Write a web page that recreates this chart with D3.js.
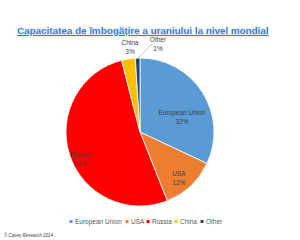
<!DOCTYPE html>
<html><head><meta charset="utf-8">
<script src="https://cdn.jsdelivr.net/npm/d3@7"></script>
<style>body{margin:0;background:#fff}svg{display:block}</style>
</head><body>
<svg id="c" width="300" height="240"></svg>
<script>
const categories = ["European Union", "USA", "Russia", "China", "Other"];
const values = [32, 12, 52, 3, 1];
const colors = ["#5B9BD5", "#ED7D31", "#FF0000", "#FFC000", "#264478"];
const titleText = "Capacitatea de îmbogățire a uraniului la nivel mondial";
const footer = "© Casey Research 2014";

const svg = d3.select("#c");
const data = categories.map((c, i) => ({cat: c, v: values[i], col: colors[i]}));

// title with glow
const defs = svg.append("defs");
const f = defs.append("filter").attr("id", "glow").attr("x", "-10%").attr("y", "-50%").attr("width", "120%").attr("height", "200%");
f.append("feGaussianBlur").attr("in", "SourceAlpha").attr("stdDeviation", 1.2).attr("result", "b");
f.append("feFlood").attr("flood-color", "#9dc3f0").attr("flood-opacity", 0.9);
f.append("feComposite").attr("in2", "b").attr("operator", "in").attr("result", "g");
const m = f.append("feMerge");
m.append("feMergeNode").attr("in", "g");
m.append("feMergeNode").attr("in", "SourceGraphic");

const title = svg.append("text")
  .attr("x", 143).attr("y", 34).attr("text-anchor", "middle")
  .attr("font-family", "Liberation Sans, Arial, sans-serif")
  .attr("font-weight", "bold").attr("font-size", 11.5)
  .attr("fill", "#3a7fd5").attr("text-decoration", "underline")
  .attr("filter", "url(#glow)")
  .text(titleText);
const tw = title.node().getComputedTextLength();
title.attr("font-size", 11.5 * 252 / tw);

const cx = 140, cy = 132, r = 74;
const pie = d3.pie().value(d => d.v).sort(null);
const arc = d3.arc().innerRadius(0).outerRadius(r);
const arcs = pie(data);
const g = svg.append("g").attr("transform", `translate(${cx},${cy})`);
g.selectAll("path").data(arcs).join("path")
  .attr("d", arc).attr("fill", d => d.data.col)
  .attr("stroke", "#fff").attr("stroke-width", 0.8);

// data labels
const labelPos = {
  "European Union": [42, -17],
  "USA": [39, 44],
  "Russia": [-60, 25],
  "China": [-10, -87],
  "Other": [18, -90]
};
const lab = svg.append("g").attr("font-family", "Liberation Sans, Arial, sans-serif")
  .attr("font-size", 6.5).attr("fill", "#404040").attr("text-anchor", "middle");
arcs.forEach(a => {
  const p = labelPos[a.data.cat];
  const t = lab.append("text").attr("x", cx + p[0]).attr("y", cy + p[1]);
  t.append("tspan").attr("x", cx + p[0]).attr("dy", 0).text(a.data.cat);
  t.append("tspan").attr("x", cx + p[0]).attr("dy", 8.5).text(Math.round(a.data.v) + "%");
});
// leader line for Other
const oth = arcs[4];
const mid = (oth.startAngle + oth.endAngle) / 2;
svg.append("line")
  .attr("x1", cx + Math.sin(mid) * r).attr("y1", cy - Math.cos(mid) * r)
  .attr("x2", cx + 12).attr("y2", cy - 88)
  .attr("stroke", "#a6a6a6").attr("stroke-width", 0.6);

// legend
const legX = [71, 127, 148, 176, 202];
const leg = svg.append("g").attr("font-family", "Liberation Sans, Arial, sans-serif")
  .attr("font-size", 6.5).attr("fill", "#595959");
data.forEach((d, i) => {
  leg.append("rect").attr("x", legX[i] - 1.5).attr("y", 220).attr("width", 3).attr("height", 3).attr("fill", d.col);
  leg.append("text").attr("x", legX[i] + 4).attr("y", 224).text(d.cat);
});

svg.append("text").attr("x", 4).attr("y", 237)
  .attr("font-family", "Liberation Sans, Arial, sans-serif")
  .attr("font-style", "italic").attr("font-size", 4.5).attr("fill", "#404040")
  .text(footer);
</script>
</body></html>
